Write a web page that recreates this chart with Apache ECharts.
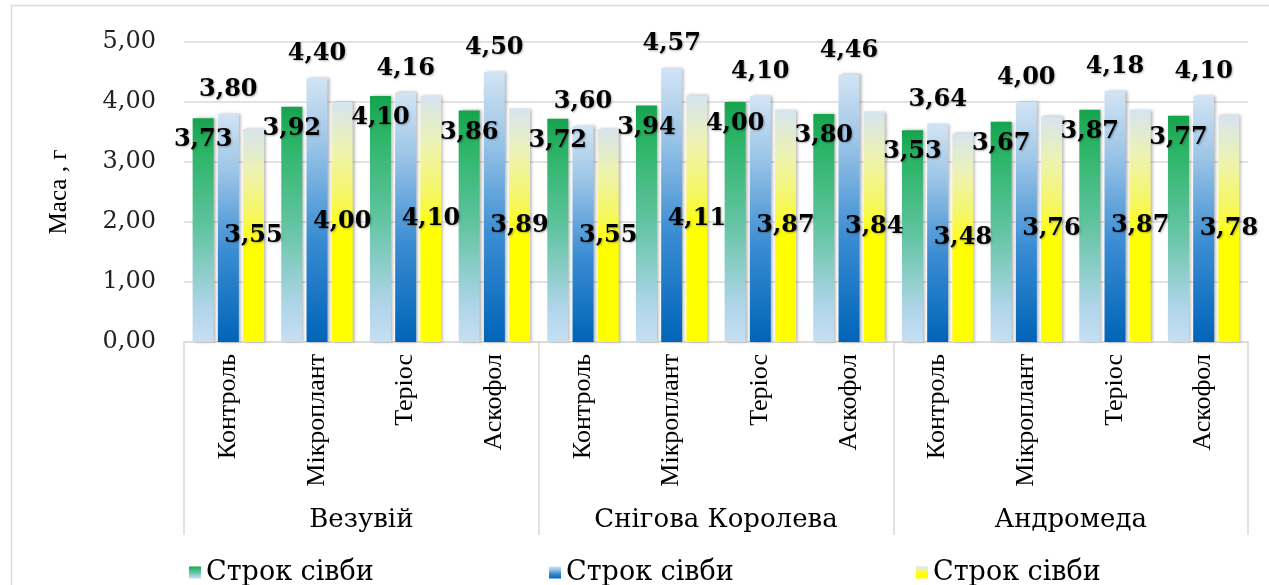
<!DOCTYPE html>
<html>
<head>
<meta charset="utf-8">
<script src="https://cdn.jsdelivr.net/npm/echarts@6/dist/echarts.min.js"></script>
<style>html,body{margin:0;padding:0;background:#fff;}#c{width:1269px;height:585px;}</style>
</head>
<body>
<div id="c"></div>
<script>
var treatments = ['Контроль','Мікроплант','Теріос','Аскофол'];
var varieties = ['Везувій','Снігова Королева','Андромеда'];
var seriesNames = ['Строк сівби','Строк сівби ','Строк сівби  '];
var sowing1 = [3.73,3.92,4.10,3.86, 3.72,3.94,4.00,3.80, 3.53,3.67,3.87,3.77];
var sowing2 = [3.80,4.40,4.16,4.50, 3.60,4.57,4.10,4.46, 3.64,4.00,4.18,4.10];
var sowing3 = [3.55,4.00,4.10,3.89, 3.55,4.11,3.87,3.84, 3.48,3.76,3.87,3.78];
var yTicks = [0,1,2,3,4,5];

var categories = [];
varieties.forEach(function(){ treatments.forEach(function(t){ categories.push(t); }); });

function grad(stops){
  return {type:'linear',x:0,y:0,x2:0,y2:1,colorStops:stops.map(function(s){return {offset:s[0],color:s[1]};})};
}
var gGreen = grad([[0,'#16a34e'],[0.15,'#2bb466'],[0.5,'#62c4a2'],[0.85,'#b0d5ea'],[1,'#c6def2']]);
var gBlue = grad([[0,'#d2e4f4'],[0.25,'#9cc5e7'],[0.6,'#3b8dd3'],[1,'#0064b8']]);
var gYellow = grad([[0,'#d6e4f0'],[0.2,'#eef3b0'],[0.4,'#f6f760'],[0.55,'#ffff00'],[1,'#ffff00']]);

function fmt(p){ return p.value.toFixed(2).replace('.', ','); }
var labelBase = {show:true, formatter:fmt, fontFamily:'DejaVu Serif', fontWeight:'bold', fontSize:24, color:'#000',
  textShadowColor:'rgba(0,0,0,0.3)', textShadowBlur:2, textShadowOffsetX:1, textShadowOffsetY:1};
function lbl(extra){ var o={}; for(var k in labelBase)o[k]=labelBase[k]; for(var k2 in extra)o[k2]=extra[k2]; return o; }
var itemShadow = {shadowColor:'rgba(0,0,0,0.3)', shadowBlur:3, shadowOffsetX:2, shadowOffsetY:0};
function style(c){ var o={color:c}; for(var k in itemShadow)o[k]=itemShadow[k]; return o; }

var serif = 'Liberation Serif';
var legendText = {fontFamily:'DejaVu Serif', fontSize:27, color:'#000'};
var chart = echarts.init(document.getElementById('c'));
chart.setOption({
  animation:false,
  backgroundColor:'#fff',
  graphic:[{type:'rect', left:9, top:3, shape:{width:1400, height:700}, style:{fill:'none', stroke:'#d9d9d9', lineWidth:1.5}, silent:true}],
  grid:{left:184, right:21, top:42, bottom:243, containLabel:false},
  legend:[
    {data:[seriesNames[0]], left:184, top:554, icon:'rect', itemWidth:12, itemHeight:12, itemGap:0, textStyle:legendText},
    {data:[seriesNames[1]], left:544, top:554, icon:'rect', itemWidth:12, itemHeight:12, itemGap:0, textStyle:legendText},
    {data:[seriesNames[2]], left:911, top:554, icon:'rect', itemWidth:12, itemHeight:12, itemGap:0, textStyle:legendText}
  ],
  xAxis:[
    {type:'category', data:categories, axisTick:{show:false}, axisLine:{lineStyle:{color:'#d9d9d9', width:1.5}},
     axisLabel:{rotate:90, interval:0, margin:12, fontFamily:serif, fontSize:26, color:'#000'}},
    {type:'category', data:varieties, position:'bottom', axisLine:{show:false},
     axisTick:{show:true, length:193, lineStyle:{color:'#d9d9d9', width:1.5}},
     axisLabel:{margin:165, fontFamily:'DejaVu Serif', fontSize:26, color:'#000'}}
  ],
  yAxis:{type:'value', min:yTicks[0], max:yTicks[yTicks.length-1], interval:1,
    name:'Маса , г', nameLocation:'middle', nameGap:112, nameTextStyle:{fontFamily:serif, fontSize:25, color:'#000'},
    axisLine:{show:false}, axisTick:{show:false},
    splitLine:{lineStyle:{color:'#d9d9d9', width:1.5}},
    axisLabel:{margin:28, fontFamily:'DejaVu Serif', fontSize:24, color:'#222', formatter:function(v){return v.toFixed(2).replace('.', ',');}}},
  series:[
    {name:seriesNames[0], type:'bar', data:sowing1, barWidth:21, barGap:'20%', itemStyle:style(gGreen),
     label:lbl({position:'insideTop', distance:10})},
    {name:seriesNames[1], type:'bar', data:sowing2, barWidth:21, barGap:'20%', itemStyle:style(gBlue),
     label:lbl({position:'top', distance:12})},
    {name:seriesNames[2], type:'bar', data:sowing3, barWidth:21, barGap:'20%', itemStyle:style(gYellow),
     label:lbl({position:'inside'})}
  ]
});
</script>
</body>
</html>
